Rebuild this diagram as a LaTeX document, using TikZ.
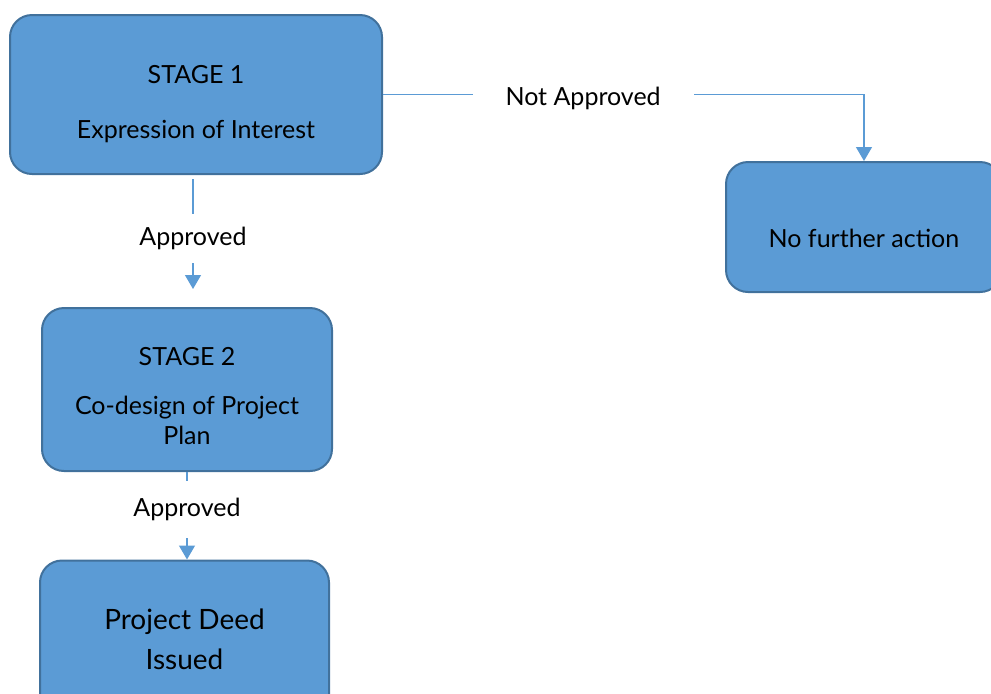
\documentclass[tikz,border=0pt]{standalone}
\usepackage{fontspec}
\setmainfont{Lato}
\usetikzlibrary{arrows.meta}

\definecolor{stagefill}{HTML}{5B9BD5}
\definecolor{stageedge}{HTML}{41719C}

\tikzset{
    stagebox/.style={draw=stageedge, line width=1pt, fill=stagefill, rounded corners=11pt,
        align=center, inner sep=0pt, font=\fontsize{12.5}{15}\selectfont},
    flow/.style={draw=stagefill, line width=0.6pt, -{Triangle[length=7pt,width=8pt]}},
    gaplabel/.style={fill=white, inner sep=0pt, font=\fontsize{12.5}{15}\selectfont},
}

\begin{document}
\begin{tikzpicture}[x=0.5pt, y=-0.5pt]
    \useasboundingbox (0,0) rectangle (991,693);

    \node[stagebox, minimum width=186pt, minimum height=79.5pt] (stage1) at (196,94.5)
        {\rule{0pt}{19pt}STAGE 1\\[12.5pt]Expression of Interest};
    \node[stagebox, minimum width=138pt, minimum height=65pt] (nofurther) at (864,227)
        {\rule{0pt}{20.5pt}No further action};
    \node[stagebox, minimum width=145pt, minimum height=81.5pt] (stage2) at (187,389.5)
        {\rule{0pt}{15.5pt}STAGE 2\\[9.5pt]Co-design of Project\\Plan};
    \node[stagebox, minimum width=144.5pt, minimum height=81.5pt,
        font=\fontsize{14}{20}\selectfont] (deed) at (184.5,642)
        {Project Deed\\Issued\rule[-3pt]{0pt}{3pt}};

    \draw[flow, shorten <=2pt, shorten >=9pt] ([xshift=-1.5pt]stage1.south)
        -- node[gaplabel, yshift=1.5pt, minimum height=24.5pt] {Approved} ([xshift=-1.5pt]stage1.south |- stage2.north);
    \draw[flow] (stage2.south)
        -- node[gaplabel, pos=0.43, minimum height=28.5pt] {Approved} (stage2.south |- deed.north);
    \draw[flow] (stage1.east)
        -| node[gaplabel, pos=0.208, yshift=-2pt, minimum width=110.5pt] {Not Approved} (nofurther.north);
\end{tikzpicture}
\end{document}
